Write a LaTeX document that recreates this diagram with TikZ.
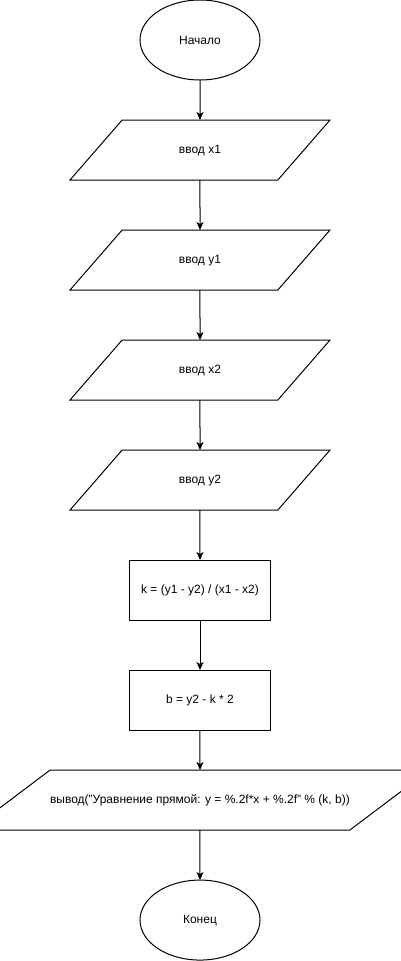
\documentclass[tikz,border=0pt]{standalone}
\usepackage{fontspec}
\setmainfont{Liberation Sans}
\usetikzlibrary{positioning,shapes.geometric,arrows.meta}

\begin{document}
\begin{tikzpicture}[every node/.style={draw,line width=1pt,outer sep=0pt,inner sep=0pt,
          font=\fontsize{12pt}{14pt}\selectfont},
        terminal/.style={ellipse,minimum width=120pt,minimum height=80pt},
        io/.style={trapezium,trapezium left angle=49,trapezium right angle=131,
          trapezium stretches body,text height=9pt,text depth=3pt,inner ysep=24pt,
          minimum width=260pt},
        proc/.style={rectangle,minimum width=140pt,minimum height=60pt},
        node distance=50pt,>={Stealth[length=8pt,width=7pt,inset=2pt]}]
   \useasboundingbox (-200pt,40pt) rectangle (201pt,-921pt);
   \node[terminal] (start) {Начало};
   \node[io] (inx1) [below=40pt of start] {ввод x1};
   \node[io] (iny1) [below=of inx1] {ввод y1};
   \node[io] (inx2) [below=of iny1] {ввод x2};
   \node[io] (iny2) [below=of inx2] {ввод y2};
   \node[proc] (calck) [below=of iny2] {k = (y1 - y2) / (x1 - x2)};
   \node[proc] (calcb) [below=of calck] {b = y2 - k * 2};
   \node[io,trapezium left angle=37,trapezium right angle=143,minimum width=400pt]
      (outkb) [below=40pt of calcb] {вывод("Уравнение прямой: y = \%.2f*x + \%.2f" \% (k, b))};
   \node[terminal] (stop) [below=of outkb] {Конец};
   \foreach \a/\b in {start/inx1,inx1/iny1,iny1/inx2,inx2/iny2,iny2/calck,calck/calcb,calcb/outkb,outkb/stop}
      \draw[->,line width=1pt] (\a) -- (\b);
\end{tikzpicture}
\end{document}
